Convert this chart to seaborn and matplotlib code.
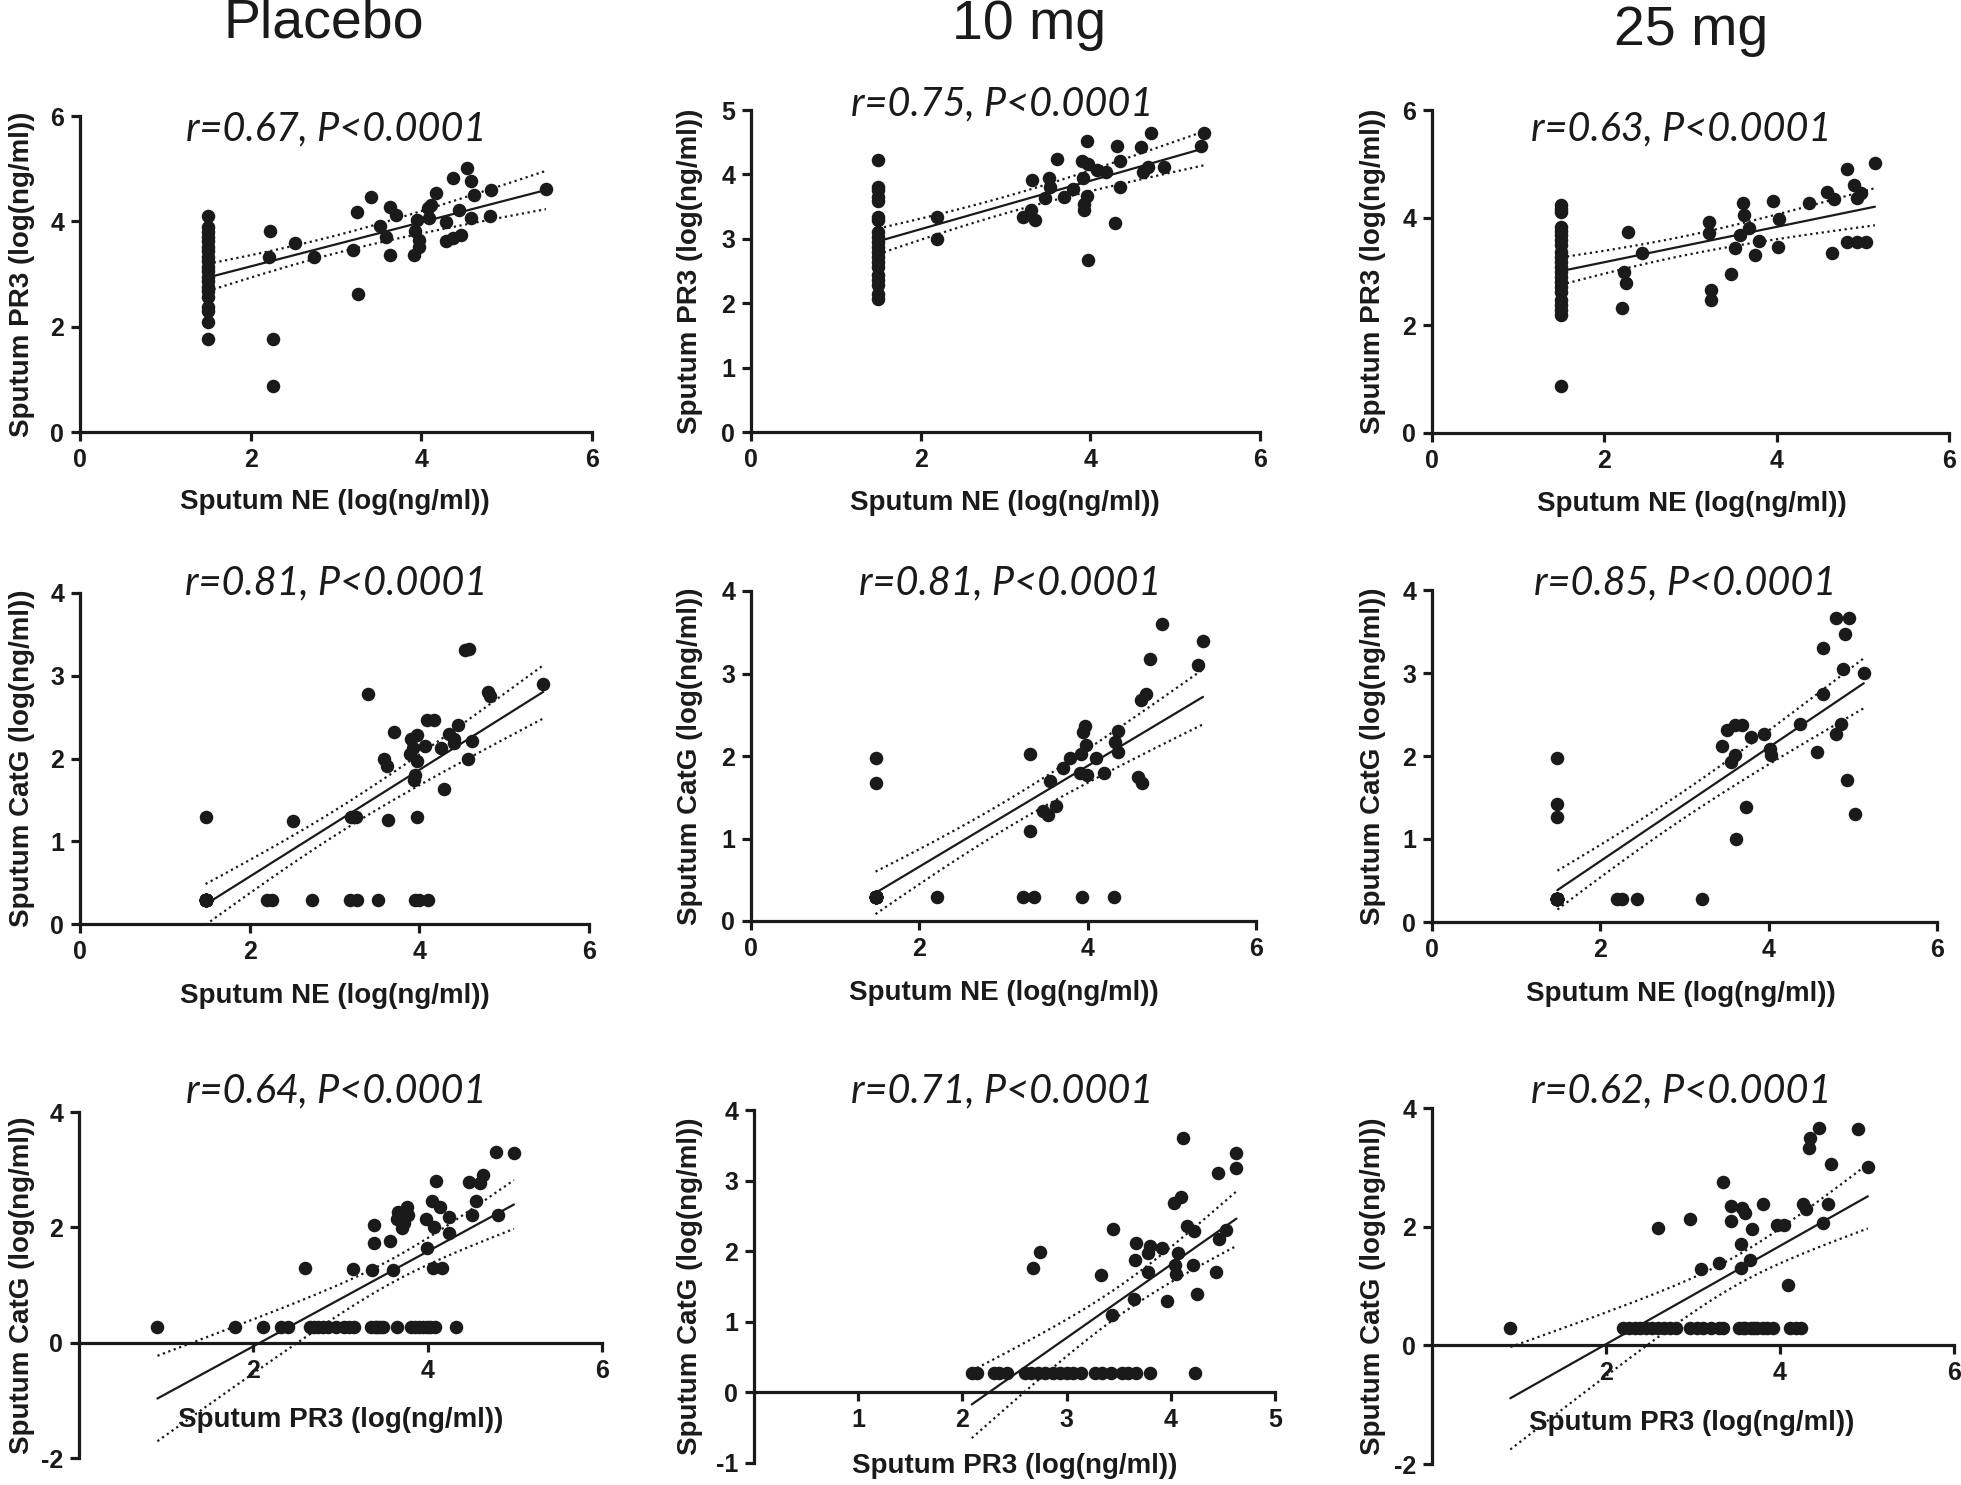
import numpy as np
import pandas as pd
import seaborn as sns
import matplotlib.pyplot as plt

# ---------------- data (log ng/ml) ----------------
groups = ["Placebo", "10 mg", "25 mg"]

# row 1 : sputum PR3 against sputum NE
pla_ne_1 = [1.5] * 20 + [2.23, 2.21, 2.26, 2.26, 2.52, 2.74, 3.20, 3.25, 3.26, 3.41, 3.51, 3.59,
                         3.63, 3.70, 3.63, 3.91, 3.93, 3.95, 3.97, 3.97, 4.09, 4.08, 4.11, 4.17,
                         4.29, 4.29, 4.37, 4.37, 4.44, 4.46, 4.53, 4.58, 4.62, 4.58, 4.82, 4.81, 5.46]
pla_pr3_1 = [4.11, 3.90, 3.80, 3.71, 3.62, 3.52, 3.43, 3.33, 3.24, 3.14, 3.05, 2.95, 2.86, 2.76,
             2.67, 2.57, 2.38, 2.29, 2.08, 1.77,
             3.82, 3.33, 1.77, 0.88, 3.58, 3.32, 3.46, 4.17, 2.62, 4.46, 3.92, 3.70, 4.27, 4.12,
             3.36, 3.36, 3.81, 4.03, 3.65, 3.52, 4.06, 4.25, 4.31, 4.53, 3.98, 3.63, 4.82, 3.68,
             4.22, 3.74, 5.01, 4.77, 4.50, 4.06, 4.60, 4.10, 4.61]

d10_ne_1 = [1.5] * 20 + [2.19, 2.19, 3.21, 3.31, 3.30, 3.35, 3.46, 3.51, 3.53, 3.61, 3.69, 3.79,
                         3.90, 3.91, 3.92, 3.93, 3.96, 3.97, 3.96, 3.97, 4.08, 4.19, 4.29, 4.31,
                         4.35, 4.35, 4.60, 4.62, 4.68, 4.72, 4.87, 5.31, 5.34]
d10_pr3_1 = [4.22, 3.80, 3.76, 3.65, 3.58, 3.34, 3.29, 3.11, 3.03, 2.95, 2.88, 2.80, 2.72, 2.64,
             2.56, 2.44, 2.36, 2.28, 2.15, 2.07,
             3.34, 2.99, 3.34, 3.92, 3.44, 3.29, 3.64, 3.94, 3.80, 4.24, 3.65, 3.77, 4.21, 3.94,
             3.54, 3.44, 3.66, 4.16, 4.52, 2.67, 4.07, 4.04, 3.25, 4.44, 4.21, 3.80, 4.42, 4.04,
             4.12, 4.65, 4.11, 4.44, 4.64]

d25_ne_1 = [1.5] * 22 + [2.21, 2.23, 2.25, 2.28, 2.44, 3.22, 3.22, 3.24, 3.24, 3.47, 3.52, 3.57,
                         3.61, 3.62, 3.68, 3.75, 3.80, 3.96, 4.01, 4.03, 4.37, 4.58, 4.66, 4.64,
                         4.82, 4.82, 4.90, 4.93, 4.98, 4.93, 5.04, 5.14]
d25_pr3_1 = [4.23, 4.17, 4.11, 3.83, 3.76, 3.68, 3.58, 3.49, 3.37, 3.27, 3.18, 3.09, 2.99, 2.90,
             2.81, 2.72, 2.62, 2.47, 2.37, 2.28, 2.19, 0.87,
             2.33, 2.99, 2.79, 3.74, 3.34, 3.92, 3.71, 2.65, 2.47, 2.96, 3.43, 3.68, 4.28, 4.05,
             3.80, 3.30, 3.57, 4.31, 3.45, 3.97, 4.27, 4.48, 4.34, 3.34, 4.90, 3.55, 4.61, 4.36,
             4.46, 3.55, 3.55, 5.01]

# row 2 : sputum CatG against sputum NE
# (the NE-below-detection samples of row 1 sit stacked on one dot at (1.5, 0.29))
pla_ne_2 = [1.48] * 18 + [
    1.48, 1.48, 2.20, 2.26, 2.51, 2.74, 3.18, 3.27, 3.19, 3.25, 3.40, 3.51, 3.58, 3.62,
    3.63, 3.70, 3.89, 3.90, 3.93, 3.94, 3.95, 3.97, 3.97, 3.95, 3.97, 4.00, 4.07, 4.09,
    4.17, 4.10, 4.26, 4.29, 4.35, 4.41, 4.45, 4.41, 4.54, 4.59, 4.57, 4.62, 4.81, 4.83, 5.46]
pla_catg_2 = [0.29] * 18 + [
    1.29, 0.29, 0.29, 0.29, 1.24, 0.29, 0.29, 0.29, 1.29, 1.29, 2.78, 0.29, 2.00, 1.91,
    1.26, 2.32, 2.05, 2.23, 2.13, 1.74, 1.80, 1.97, 2.28, 0.29, 1.29, 0.29, 2.15, 2.46,
    2.46, 0.29, 2.13, 1.63, 2.30, 2.23, 2.40, 2.19, 3.31, 3.32, 1.99, 2.21, 2.80, 2.76, 2.90]

d10_ne_2 = [1.48] * 17 + [
    1.48, 1.48, 1.48, 2.21, 3.23, 3.36, 3.32, 3.32, 3.47, 3.53, 3.55, 3.62, 3.71, 3.79,
    3.92, 3.91, 3.94, 3.97, 3.98, 3.99, 3.93, 4.10, 4.19, 4.31, 4.32, 4.36, 4.36, 4.60,
    4.65, 4.63, 4.69, 4.74, 4.88, 5.31, 5.37]
d10_catg_2 = [0.29] * 17 + [
    1.98, 1.67, 0.29, 0.29, 0.29, 0.29, 2.03, 1.09, 1.33, 1.28, 1.70, 1.39, 1.86, 1.97,
    2.03, 1.80, 2.29, 2.36, 2.13, 1.77, 0.29, 1.98, 1.79, 0.29, 2.17, 2.30, 2.05, 1.74,
    1.67, 2.68, 2.75, 3.17, 3.60, 3.10, 3.39]

d25_ne_2 = [1.49] * 18 + [
    1.49, 1.49, 1.49, 1.49, 2.20, 2.26, 2.43, 3.21, 3.45, 3.51, 3.55, 3.60, 3.60, 3.61,
    3.68, 3.73, 3.79, 3.94, 4.01, 4.03, 4.37, 4.58, 4.64, 4.64, 4.80, 4.86, 4.88, 4.80,
    4.95, 4.91, 4.93, 5.03, 5.13]
d25_catg_2 = [0.28] * 18 + [
    1.97, 1.42, 1.27, 0.28, 0.28, 0.28, 0.28, 0.28, 2.12, 2.31, 1.93, 2.01, 2.37, 1.00,
    2.37, 1.39, 2.23, 2.27, 2.09, 2.01, 2.39, 2.05, 2.75, 3.30, 2.27, 2.39, 3.05, 3.66,
    3.66, 3.47, 1.71, 1.30, 3.00]

# row 3 : sputum CatG against sputum PR3
# (CatG-below-detection samples overlap along the 0.28 row)
pla_pr3_3 = [0.90, 1.79, 2.11, 2.32, 2.40, 2.59, 2.65, 2.74, 2.86, 3.04, 3.15, 3.14, 3.35, 3.42,
             3.49, 3.36, 3.39, 3.39, 3.57, 3.60, 3.65, 3.65, 3.66, 3.71, 3.73, 3.76, 3.77, 3.81,
             3.90, 3.99, 4.08, 3.99, 3.98, 4.05, 4.07, 4.06, 4.17, 4.10, 4.14, 4.24, 4.25, 4.32,
             4.47, 4.51, 4.56, 4.60, 4.63, 4.78, 4.81, 4.99,
             2.70, 2.80, 2.95, 3.10, 3.40, 3.45, 3.85, 3.95, 4.03]
pla_catg_3 = [0.28, 0.28, 0.28, 0.28, 0.28, 1.29, 0.28, 0.28, 0.28, 0.28, 0.28, 1.27, 0.28, 0.28,
              0.28, 1.26, 2.04, 1.73, 1.77, 1.26, 0.28, 2.14, 2.27, 1.98, 2.08, 2.36, 2.21, 0.28,
              0.28, 0.28, 0.28, 1.64, 2.14, 2.45, 2.01, 1.29, 1.29, 2.81, 2.36, 2.18, 1.91, 0.28,
              2.79, 2.21, 2.46, 2.77, 2.91, 3.31, 2.21, 3.29,
              0.28, 0.28, 0.28, 0.28, 0.28, 0.28, 0.28, 0.28, 0.28]

d10_pr3_3 = [2.09, 2.14, 2.30, 2.35, 2.43, 2.60, 2.66, 2.73, 2.79, 2.87, 2.94, 3.00, 3.06, 3.14,
             3.27, 3.34, 3.43, 3.53, 3.59, 3.67, 3.80, 4.23,
             2.68, 2.74, 3.33, 3.45, 3.44, 3.65, 3.66, 3.67, 3.78, 3.80, 3.78, 3.92, 3.96, 4.07,
             4.03, 4.10, 4.04, 4.05, 4.12, 4.16, 4.22, 4.21, 4.25, 4.43, 4.45, 4.46, 4.53, 4.63, 4.63]
d10_catg_3 = [0.28] * 22 + [1.76, 1.99, 1.66, 2.31, 1.10, 1.32, 1.88, 2.12, 1.97, 2.07, 1.71,
                            2.04, 1.29, 1.98, 2.68, 2.77, 1.81, 1.67, 3.60, 2.35, 2.29, 1.80,
                            1.40, 1.71, 3.11, 2.17, 2.30, 3.39, 3.18]

d25_pr3_3 = [0.90, 2.19, 2.26, 2.33, 2.39, 2.46, 2.53, 2.60, 2.67, 2.74, 2.80, 2.96, 3.05, 3.12,
             3.21, 3.30, 3.35, 3.53, 3.60, 3.67, 3.74, 3.80, 3.92, 4.12, 4.24,
             3.57, 3.70, 3.85, 4.18,
             2.60, 2.96, 3.09, 3.30, 3.35, 3.44, 3.44, 3.55, 3.55, 3.56, 3.60, 3.65, 3.68, 3.80,
             3.97, 4.05, 4.09, 4.26, 4.30, 4.33, 4.35, 4.45, 4.49, 4.55, 4.59, 4.90, 5.01]
d25_catg_3 = [0.30] * 29 + [1.98, 2.13, 1.29, 1.39, 2.75, 2.34, 2.09, 1.71, 1.30, 2.31, 2.23,
                            1.44, 1.96, 2.39, 2.02, 2.02, 1.01, 2.39, 2.29, 3.33, 3.49, 3.66,
                            2.06, 2.39, 3.06, 3.65, 3.01]

stats = [["r=0.67, P<0.0001", "r=0.75, P<0.0001", "r=0.63, P<0.0001"],
         ["r=0.81, P<0.0001", "r=0.81, P<0.0001", "r=0.85, P<0.0001"],
         ["r=0.64, P<0.0001", "r=0.71, P<0.0001", "r=0.62, P<0.0001"]]

xlabels = ["Sputum NE (log(ng/ml))", "Sputum NE (log(ng/ml))", "Sputum PR3 (log(ng/ml))"]
ylabels = ["Sputum PR3 (log(ng/ml))", "Sputum CatG (log(ng/ml))", "Sputum CatG (log(ng/ml))"]

data = [[(pla_ne_1, pla_pr3_1), (d10_ne_1, d10_pr3_1), (d25_ne_1, d25_pr3_1)],
        [(pla_ne_2, pla_catg_2), (d10_ne_2, d10_catg_2), (d25_ne_2, d25_catg_2)],
        [(pla_pr3_3, pla_catg_3), (d10_pr3_3, d10_catg_3), (d25_pr3_3, d25_catg_3)]]

# ---------------- layout (pixels of the 1961x1485 image) ----------------
W, H = 1961, 1485
boxes = [[(80, 592, 116, 432), (751, 1260, 110, 432), (1432, 1949, 110, 433)],
         [(80, 589, 593, 924), (751, 1256, 591, 921), (1432, 1937, 590, 922)],
         [(79, 602, 1112, 1458), (754, 1275, 1110, 1463), (1432, 1954, 1108, 1464)]]
ylims = [[(0, 6), (0, 5), (0, 6)], [(0, 4)] * 3, [(-2, 4), (-1, 4), (-2, 4)]]
yticks = [[[0, 2, 4, 6], [0, 1, 2, 3, 4, 5], [0, 2, 4, 6]],
          [[0, 1, 2, 3, 4]] * 3,
          [[-2, 0, 2, 4], [-1, 0, 1, 2, 3, 4], [-2, 0, 2, 4]]]
xlims = [[(0, 6)] * 3, [(0, 6)] * 3, [(0, 6), (0, 5), (0, 6)]]
xticks = [[[0, 2, 4, 6]] * 3, [[0, 2, 4, 6]] * 3, [[2, 4, 6], [1, 2, 3, 4, 5], [2, 4, 6]]]
xlab_pos = [[(335, 502), (1005, 503), (1692, 504)],
            [(335, 996), (1004, 993), (1681, 994)],
            [(341, 1420), (1015, 1466), (1692, 1423)]]
ylab_x = [22, 690, 1373]
stat_pos = [[(336, 129), (1002, 104), (1681, 129)],
            [(336, 583), (1010, 583), (1685, 583)],
            [(336, 1091), (1002, 1091), (1681, 1091)]]
title_pos = [(324, 23), (1029, 25), (1691, 31)]

sns.set_style("ticks")
plt.rcParams["font.family"] = ["Liberation Sans", "DejaVu Sans"]
plt.rcParams["font.weight"] = "bold"
plt.rcParams["axes.unicode_minus"] = False

ink = "#1a1a1a"
fig = plt.figure(figsize=(W / 100, H / 100), dpi=100)


def fx(x):
    return x / W


def fy(y):
    return 1 - y / H


def conf_band(x, y, t=2.0):
    x = np.asarray(x, float)
    y = np.asarray(y, float)
    b, a = np.polyfit(x, y, 1)
    xs = np.linspace(x.min(), x.max(), 100)
    n = len(x)
    s = np.sqrt(np.sum((y - (a + b * x)) ** 2) / (n - 2))
    se = s * np.sqrt(1 / n + (xs - x.mean()) ** 2 / np.sum((x - x.mean()) ** 2))
    yh = a + b * xs
    return xs, yh - t * se, yh + t * se


for r in range(3):
    for c in range(3):
        l, rr, t, b = boxes[r][c]
        ax = fig.add_axes([fx(l), fy(b), (rr - l) / W, (b - t) / H])
        xv, yv = data[r][c]
        df = pd.DataFrame({"x": xv, "y": yv})
        sns.regplot(data=df, x="x", y="y", ax=ax, ci=None,
                    scatter_kws=dict(s=95, color=ink, linewidths=0, alpha=1, zorder=3),
                    line_kws=dict(color=ink, lw=1.6, zorder=4))
        xs, lo, hi = conf_band(xv, yv)
        ax.plot(xs, lo, color=ink, lw=1.6, ls=(0, (1, 1.6)), zorder=4)
        ax.plot(xs, hi, color=ink, lw=1.6, ls=(0, (1, 1.6)), zorder=4)

        ax.set_xlim(*xlims[r][c])
        ax.set_ylim(*ylims[r][c])
        ax.set_xticks(xticks[r][c])
        ax.set_yticks(yticks[r][c])
        ax.spines[["top", "right"]].set_visible(False)
        for s in ["left", "bottom"]:
            ax.spines[s].set_linewidth(2.3)
            ax.spines[s].set_color(ink)
        if r == 2:
            ax.spines["bottom"].set_position(("data", 0))
        ax.tick_params(length=6.5, width=2.3, color=ink, labelsize=18, pad=5, labelcolor=ink)

        ax.set_xlabel(xlabels[r], fontsize=20, fontweight="bold", color=ink)
        ax.set_ylabel(ylabels[r], fontsize=20, fontweight="bold", color=ink)
        lx, ly = xlab_pos[r][c]
        ax.xaxis.set_label_coords(fx(lx), fy(ly), transform=fig.transFigure)
        ax.xaxis.label.set_va("center")
        ax.yaxis.set_label_coords(fx(ylab_x[c]), fy((t + b) / 2), transform=fig.transFigure)
        ax.yaxis.label.set_va("center")
        ax.yaxis.label.set_ha("center")

        sx, sy = stat_pos[r][c]
        fig.text(fx(sx), fy(sy), stats[r][c], ha="center", va="center", fontsize=28.5,
                 family=["Lato", "DejaVu Sans"], style="italic", fontweight="normal", color=ink)

for name, (tx, ty) in zip(groups, title_pos):
    fig.text(fx(tx), fy(ty), name, ha="center", va="center", fontsize=40,
             fontweight="normal", color=ink)

fig.savefig("out.png", dpi=100)
